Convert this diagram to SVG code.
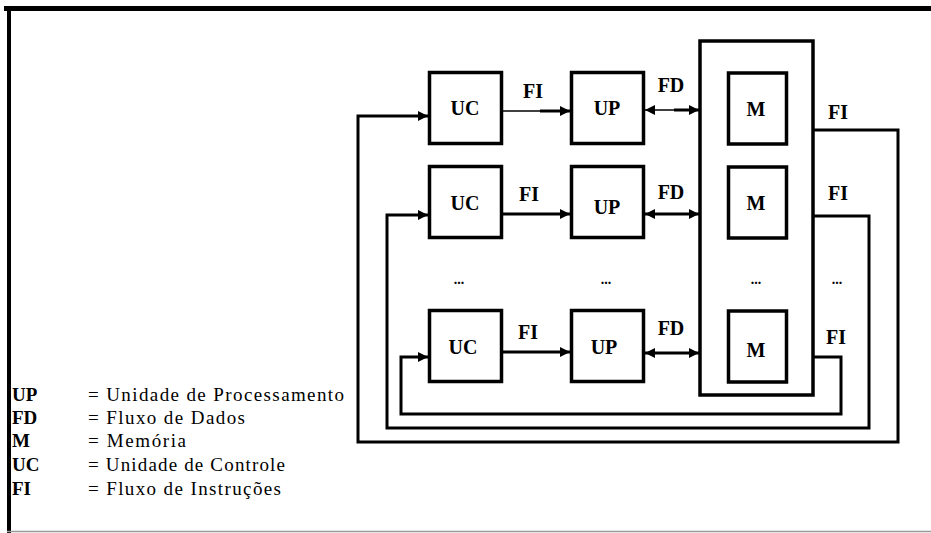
<svg xmlns="http://www.w3.org/2000/svg" width="931" height="533" viewBox="0 0 931 533">
  <style>
    .box { fill: #fff; stroke: #000; stroke-width: 3.5; }
    .wire { fill: none; stroke: #000; stroke-width: 3; }
    .thin { fill: none; stroke: #000; stroke-width: 1.5; }
    .lbl { font-family: "Liberation Serif", "DejaVu Serif", serif; font-weight: bold; font-size: 20px; text-anchor: middle; fill: #000; }
    .dots { font-family: "Liberation Serif", "DejaVu Serif", serif; font-weight: bold; font-size: 14px; text-anchor: middle; fill: #000; }
    .key { font-family: "Liberation Serif", "DejaVu Serif", serif; font-weight: bold; font-size: 19px; fill: #000; }
    .desc { font-family: "Liberation Serif", "DejaVu Serif", serif; font-size: 19px; fill: #000; }
  </style>
  <defs>
    <marker id="arrow" viewBox="0 0 10 10" refX="10" refY="5" markerWidth="10" markerHeight="11" markerUnits="userSpaceOnUse" orient="auto">
      <path d="M0,0 L10,5 L0,10 z" fill="#000"/>
    </marker>
    <marker id="arrowStart" viewBox="0 0 10 10" refX="0" refY="5" markerWidth="10" markerHeight="11" markerUnits="userSpaceOnUse" orient="auto">
      <path d="M10,0 L0,5 L10,10 z" fill="#000"/>
    </marker>
  </defs>

  <rect width="931" height="533" fill="#fff"/>

  <!-- outer frame -->
  <g id="frame">
    <line x1="4" y1="8.5" x2="931" y2="8.5" stroke="#000" stroke-width="5"/>
    <line x1="9" y1="6" x2="9" y2="533" stroke="#000" stroke-width="4"/>
    <line x1="7" y1="531.5" x2="931" y2="531.5" stroke="#999" stroke-width="1.5"/>
  </g>

  <!-- connectors -->
  <g id="connectors">
    <!-- instruction flow UC -> UP -->
    <line class="thin" x1="503" y1="111" x2="542" y2="111"/>
    <line class="wire" x1="540" y1="111" x2="570" y2="111" marker-end="url(#arrow)"/>
    <line class="wire" x1="503" y1="214" x2="570" y2="214" marker-end="url(#arrow)"/>
    <line class="wire" x1="503" y1="352" x2="570" y2="352" marker-end="url(#arrow)"/>
    <!-- data flow UP <-> memory -->
    <line class="thin" x1="645" y1="110" x2="676" y2="110" marker-start="url(#arrowStart)"/>
    <line class="wire" x1="674" y1="110" x2="699" y2="110" marker-end="url(#arrow)"/>
    <line class="wire" x1="645" y1="214" x2="699" y2="214" marker-start="url(#arrowStart)" marker-end="url(#arrow)"/>
    <line class="wire" x1="645" y1="353" x2="699" y2="353" marker-start="url(#arrowStart)" marker-end="url(#arrow)"/>
    <!-- instruction feedback loops -->
    <polyline class="wire" points="814,130 898,130 898,442 358,442 358,116 428,116" marker-end="url(#arrow)"/>
    <polyline class="wire" points="814,216 869,216 869,428 387,428 387,215 428,215" marker-end="url(#arrow)"/>
    <polyline class="wire" points="814,357 841,357 841,414 401,414 401,357 428,357" marker-end="url(#arrow)"/>
  </g>

  <!-- memory block -->
  <g id="memory">
    <rect class="box" x="700" y="41" width="113" height="354"/>
  </g>

  <g id="uc1"><rect class="box" x="429.5" y="72.5" width="72" height="71"/><text class="lbl" x="465" y="115">UC</text></g>
  <g id="up1"><rect class="box" x="571.5" y="72.5" width="72" height="71"/><text class="lbl" x="607" y="115">UP</text></g>
  <g id="m1"><rect class="box" x="728.5" y="73" width="58" height="71"/><text class="lbl" x="756" y="116">M</text></g>

  <g id="uc2"><rect class="box" x="429.5" y="166.5" width="72" height="71"/><text class="lbl" x="465" y="210">UC</text></g>
  <g id="up2"><rect class="box" x="571.5" y="166.5" width="72" height="71"/><text class="lbl" x="607" y="214">UP</text></g>
  <g id="m2"><rect class="box" x="728.5" y="167" width="58" height="71"/><text class="lbl" x="756" y="210">M</text></g>

  <g id="uc3"><rect class="box" x="429.5" y="310.5" width="72" height="71"/><text class="lbl" x="463" y="354">UC</text></g>
  <g id="up3"><rect class="box" x="571.5" y="310.5" width="72" height="71"/><text class="lbl" x="604" y="354">UP</text></g>
  <g id="m3"><rect class="box" x="728.5" y="311" width="58" height="71"/><text class="lbl" x="756" y="357">M</text></g>

  <!-- flow labels -->
  <g id="flow-labels">
    <text class="lbl" x="533" y="98">FI</text>
    <text class="lbl" x="529" y="201">FI</text>
    <text class="lbl" x="528" y="339">FI</text>
    <text class="lbl" x="671" y="92">FD</text>
    <text class="lbl" x="671" y="199">FD</text>
    <text class="lbl" x="671" y="335">FD</text>
    <text class="lbl" x="838" y="119">FI</text>
    <text class="lbl" x="838" y="200">FI</text>
    <text class="lbl" x="836" y="344">FI</text>
  </g>

  <!-- ellipsis row -->
  <g id="ellipses">
    <text class="dots" x="459" y="284">...</text>
    <text class="dots" x="606" y="284">...</text>
    <text class="dots" x="756" y="284">...</text>
    <text class="dots" x="837" y="284">...</text>
  </g>

  <!-- legend -->
  <g id="legend">
    <text class="key" x="12" y="401">UP</text>
    <text class="key" x="12" y="424">FD</text>
    <text class="key" x="12" y="447">M</text>
    <text class="key" x="12" y="471">UC</text>
    <text class="key" x="12" y="495">FI</text>
    <text class="desc" x="88" y="401" textLength="256" lengthAdjust="spacing">= Unidade de Processamento</text>
    <text class="desc" x="88" y="424" textLength="157" lengthAdjust="spacing">= Fluxo de Dados</text>
    <text class="desc" x="88" y="447" textLength="98" lengthAdjust="spacing">= Memória</text>
    <text class="desc" x="88" y="471" textLength="197" lengthAdjust="spacing">= Unidade de Controle</text>
    <text class="desc" x="88" y="495" textLength="193" lengthAdjust="spacing">= Fluxo de Instruções</text>
  </g>
</svg>
